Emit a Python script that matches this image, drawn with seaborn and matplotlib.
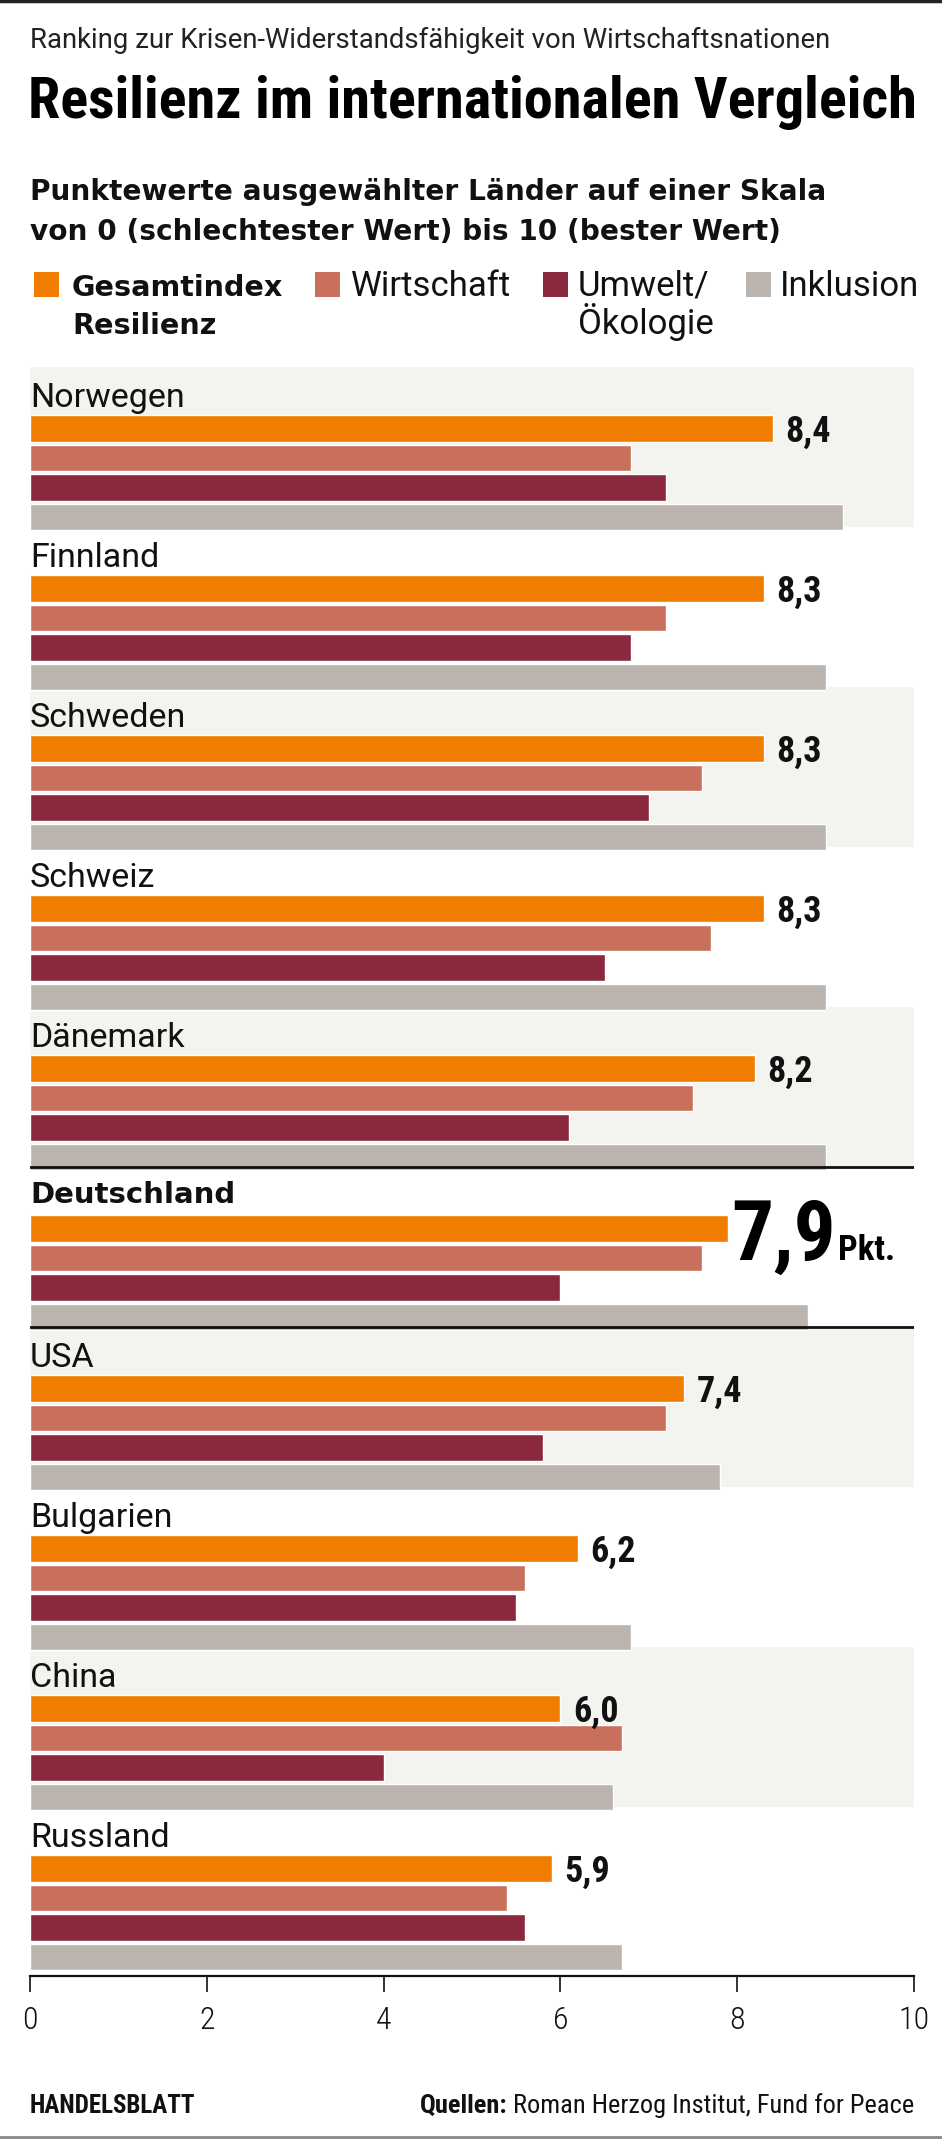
import os
import matplotlib
matplotlib.use("Agg")
import matplotlib.pyplot as plt
from matplotlib import font_manager
from matplotlib.font_manager import FontProperties
from matplotlib.lines import Line2D
from matplotlib.patches import Rectangle
from matplotlib.text import Annotation
import seaborn as sns
import pandas as pd

# ---------------- data ----------------
countries = ["Norwegen", "Finnland", "Schweden", "Schweiz", "Dänemark",
             "Deutschland", "USA", "Bulgarien", "China", "Russland"]
gesamt     = [8.4, 8.3, 8.3, 8.3, 8.2, 7.9, 7.4, 6.2, 6.0, 5.9]
wirtschaft = [6.8, 7.2, 7.6, 7.7, 7.5, 7.6, 7.2, 5.6, 6.7, 5.4]
umwelt     = [7.2, 6.8, 7.0, 6.5, 6.1, 6.0, 5.8, 5.5, 4.0, 5.6]
inklusion  = [9.2, 9.0, 9.0, 9.0, 9.0, 8.8, 7.8, 6.8, 6.6, 6.7]
series_names = ["Gesamtindex Resilienz", "Wirtschaft", "Umwelt/Ökologie", "Inklusion"]
legend_lines = [["Gesamtindex", "Resilienz"], ["Wirtschaft"], ["Umwelt/", "Ökologie"], ["Inklusion"]]
colors = ["#F07D00", "#C8705C", "#8A283D", "#BCB5AF"]
xticks = [0, 2, 4, 6, 8, 10]
highlight = "Deutschland"

# ---------------- fonts ----------------
sns.set_theme(style="white")
names = {f.name for f in font_manager.fontManager.ttflist}

def pick(cands, default="DejaVu Sans"):
    for c in cands:
        if c in names:
            return c
    return default

F_COND = pick(["Roboto Condensed", "Liberation Sans Narrow"])
F_REG = pick(["Roboto", "Open Sans", "Lato"])
plt.rcParams["font.family"] = [F_REG, "DejaVu Sans"]

def find_file(patterns):
    files = [f.fname for f in font_manager.fontManager.ttflist]
    for pat in patterns:
        for fn in files:
            if os.path.basename(fn).lower().startswith(pat.lower()):
                return fn
    return None

heavy_file = find_file(["NotoSans-ExtraCondensedBlack.", "NotoSans-ExtraCondensedExtraBold.",
                        "NotoSans-ExtraCondensedBold.", "NotoSans-CondensedBlack.",
                        "RobotoCondensed-Black.", "RobotoCondensed-ExtraBold.",
                        "RobotoCondensed-Bold."])
extra_cond = heavy_file is not None and "extracondensed" in os.path.basename(heavy_file).lower()

def fp_heavy(size):
    if heavy_file:
        return FontProperties(fname=heavy_file, size=size)
    return FontProperties(family=F_COND, weight="bold", size=size)

def fp(kind, size):
    if kind == "reg":
        return FontProperties(family=[F_REG, "DejaVu Sans"], weight="normal", size=size)
    if kind == "cond_light":
        return FontProperties(family=[F_COND, "DejaVu Sans"], weight="light", size=size)
    if kind == "cond_reg":
        return FontProperties(family=[F_COND, "DejaVu Sans"], weight="normal", size=size)
    if kind == "cond_bold":
        return FontProperties(family=[F_COND, "DejaVu Sans"], weight="bold", size=size)
    if kind == "wide_bold":
        return FontProperties(family=["DejaVu Sans"], weight="bold", size=size)
    raise ValueError(kind)

W, H = 942, 2139
fig = plt.figure(figsize=(W / 100, H / 100), dpi=100)
fig.patch.set_facecolor("white")

def fx(x):
    return x / W

def fy(y):
    return 1 - y / H

TXT = "#111111"

# ---------------- axes ----------------
ax_top, ax_bot, ax_left, ax_right = 367, 1976, 30, 914
ax = fig.add_axes([fx(ax_left), fy(ax_bot), (ax_right - ax_left) / W, (ax_bot - ax_top) / H])
ax.set_facecolor("white")

offsets = [0.384, 0.568, 0.752, 0.936]
rows = []
vals = [gesamt, wirtschaft, umwelt, inklusion]
for i, c in enumerate(countries):
    for s, (name, v) in enumerate(zip(series_names, vals)):
        rows.append({"country": c, "series": name, "value": v[i], "pos": i + offsets[s]})
df = pd.DataFrame(rows)

n = len(countries)
for i in range(n):
    if i % 2 == 0:
        ax.axhspan(i, i + 1, xmin=0, xmax=1, color="#F3F3F0", zorder=0, lw=0)

sns.barplot(data=df, x="value", y="pos", hue="series", hue_order=series_names,
            palette=colors, orient="h", native_scale=True, dodge=False,
            width=0.9, saturation=1, legend=False, ax=ax, zorder=2)

ax.set_xlim(0, 10)
ax.set_ylim((ax_bot - ax_top) / 160, 0)

hi = countries.index(highlight)
for yy in (hi, hi + 1):
    ax.axhline(yy, color="#111111", lw=2, zorder=3)

# country labels + value labels
bar_bottom = offsets[0] + 0.9 * 0.184 / 2
for i, c in enumerate(countries):
    if c == highlight:
        ax.text(0.0, i + 0.222, c, ha="left", va="baseline",
                fontproperties=fp("wide_bold", 21), color=TXT, zorder=4)
    else:
        ax.text(0.0, i + 0.25, c, ha="left", va="baseline",
                fontproperties=fp("reg", 24.5), color=TXT, zorder=4)
    lab = f"{gesamt[i]:.1f}".replace(".", ",")
    if c == highlight:
        big = 72 if extra_cond else 60
        small = 34 if extra_cond else 25
        t79 = ax.text(gesamt[i] + 0.03, i + 0.58, lab, ha="left", va="baseline",
                      fontproperties=fp_heavy(big), color="#000000", zorder=4)
        ax.annotate("Pkt.", xy=(1.0, i + 0.58), xycoords=(t79, "data"),
                    xytext=(1.5, 0), textcoords="offset points",
                    ha="left", va="baseline", fontproperties=fp_heavy(small),
                    color="#000000", zorder=4)
    else:
        ax.text(gesamt[i] + 0.14, i + bar_bottom, lab, ha="left", va="baseline",
                fontproperties=fp("cond_bold", 26), color=TXT, zorder=4)

ax.set_xticks(xticks)
ax.set_xticklabels([str(t) for t in xticks])
ax.set_yticks([])
ax.set_xlabel("")
ax.set_ylabel("")
for s in ["left", "right", "top"]:
    ax.spines[s].set_visible(False)
ax.spines["bottom"].set_color("#111111")
ax.spines["bottom"].set_linewidth(1.6)
ax.tick_params(axis="x", direction="out", length=11.5, width=1.2, color="#111111",
               pad=10, labelcolor=TXT, bottom=True)
for lbl in ax.get_xticklabels():
    lbl.set_fontproperties(fp("cond_light", 23))

# ---------------- header ----------------
fig.add_artist(Line2D([0, 1], [fy(1), fy(1)], color="#222222", lw=2.5,
                      transform=fig.transFigure))
fig.text(fx(30), fy(48), "Ranking zur Krisen-Widerstandsfähigkeit von Wirtschaftsnationen",
         ha="left", va="baseline", fontproperties=fp("reg", 19.8), color="#222222")
fig.text(fx(28), fy(118), "Resilienz im internationalen Vergleich",
         ha="left", va="baseline", fontproperties=fp("cond_bold", 42), color="#000000")
fig.text(fx(30), fy(200), "Punktewerte ausgewählter Länder auf einer Skala",
         ha="left", va="baseline", fontproperties=fp("wide_bold", 20.2), color=TXT)
fig.text(fx(30), fy(240), "von 0 (schlechtester Wert) bis 10 (bester Wert)",
         ha="left", va="baseline", fontproperties=fp("wide_bold", 20.2), color=TXT)

# legend
leg_sq_x = [34, 315, 543, 746]
leg_tx_x = [72, 351, 578, 780]
for k in range(4):
    fig.add_artist(Rectangle((fx(leg_sq_x[k]), fy(297)), 25 / W, 25 / H,
                             transform=fig.transFigure, color=colors[k], lw=0))
    for j, line in enumerate(legend_lines[k]):
        prop = fp("wide_bold", 20.6) if k == 0 else fp("reg", 25)
        fig.text(fx(leg_tx_x[k]), fy(296 + 38 * j), line, ha="left", va="baseline",
                 fontproperties=prop, color=TXT)

# ---------------- footer ----------------
fig.text(fx(30), fy(2113), "HANDELSBLATT", ha="left", va="baseline",
         fontproperties=fp("cond_bold", 18), color=TXT)
t_src = fig.text(fx(914), fy(2113), "Roman Herzog Institut, Fund for Peace",
                 ha="right", va="baseline", fontproperties=fp("cond_reg", 19), color=TXT)
fig.add_artist(Annotation(
    "Quellen:", xy=(0, fy(2113)), xycoords=(t_src, fig.transFigure), xytext=(-4, 0),
    textcoords="offset points", ha="right", va="baseline",
    fontproperties=fp("cond_bold", 19), color=TXT, annotation_clip=False))
fig.add_artist(Line2D([0, 1], [fy(2137), fy(2137)], color="#888888", lw=2,
                      transform=fig.transFigure))

fig.savefig("out.png", dpi=100, facecolor="white")
